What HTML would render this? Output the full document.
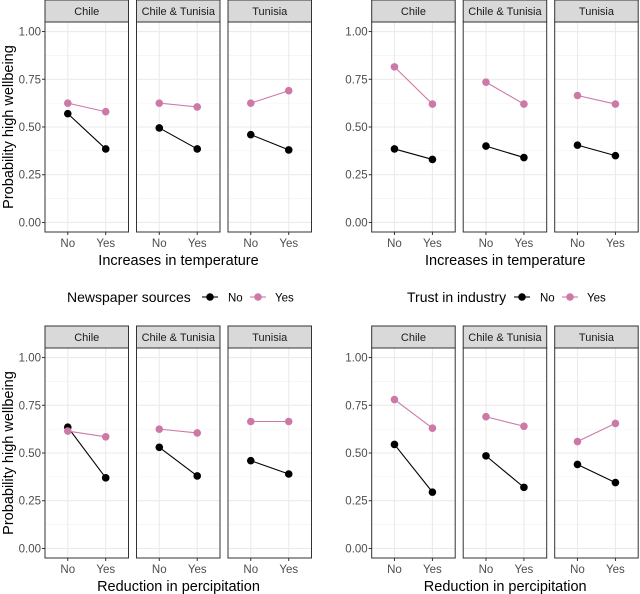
<!DOCTYPE html>
<html><head><meta charset="utf-8"><style>
body{margin:0;background:#fff}
svg{display:block;font-family:"Liberation Sans",Arial,sans-serif}
</style></head><body>
<svg id="c" width="640" height="594" xmlns="http://www.w3.org/2000/svg"></svg>
<script>
const facets = ["Chile","Chile & Tunisia","Tunisia"];
const xCats = ["No","Yes"];
const yTicks = [0,0.25,0.5,0.75,1];
const yTickLabels = ["0.00","0.25","0.50","0.75","1.00"];
// values per facet: [No, Yes] along x
const tlNo  = [[0.57,0.385],[0.495,0.385],[0.46,0.38]];
const tlYes = [[0.625,0.58],[0.625,0.605],[0.625,0.69]];
const trNo  = [[0.385,0.33],[0.40,0.34],[0.405,0.35]];
const trYes = [[0.815,0.62],[0.735,0.62],[0.665,0.62]];
const blNo  = [[0.635,0.37],[0.53,0.38],[0.46,0.39]];
const blYes = [[0.615,0.585],[0.625,0.605],[0.665,0.665]];
const brNo  = [[0.545,0.295],[0.485,0.32],[0.44,0.345]];
const brYes = [[0.78,0.63],[0.69,0.64],[0.56,0.655]];
const panels = [
 {name:"temperature-newspaper",ox:0,oy:0,no:tlNo,yes:tlYes,xt:"Increases in temperature",yt:true},
 {name:"temperature-trust",ox:326.7,oy:0,no:trNo,yes:trYes,xt:"Increases in temperature",yt:false},
 {name:"precipitation-newspaper",ox:0,oy:326,no:blNo,yes:blYes,xt:"Reduction in percipitation",yt:true},
 {name:"precipitation-trust",ox:326.7,oy:326,no:brNo,yes:brYes,xt:"Reduction in percipitation",yt:false}
];
const NS="http://www.w3.org/2000/svg", svg=document.getElementById('c');
function mk(t,a,p,txt){const e=document.createElementNS(NS,t);for(const k in a)e.setAttribute(k,a[k]);if(txt!=null)e.textContent=txt;(p||svg).appendChild(e);return e;}
const PINK="#CC79A7";
const fx=[45,136.5,228], fw=83.5;
panels.forEach(P=>{
  const g=mk('g',{});
  
  
  const top=P.oy+22, bot=P.oy+232, stripTop=P.oy;
  const y=v=>top+(1.05-v)/1.1*(bot-top);
  yTicks.forEach((t,i)=>{
    const tl=mk('text',{x:P.ox+41,y:y(t)+4,'text-anchor':'end','font-size':11.5,fill:'#4d4d4d'},g,yTickLabels[i]);
    
    
    mk('line',{x1:P.ox+42,x2:P.ox+45,y1:y(t),y2:y(t),stroke:'#333','stroke-width':1},g);
  });
  if(P.yt){
    const yt=mk('text',{transform:`translate(${P.ox+13},${(top+bot)/2}) rotate(-90)`,'text-anchor':'middle','font-size':14.5,fill:'#000'},g,'Probability high wellbeing');
    
    
  }
  facets.forEach((f,fi)=>{
    const L=P.ox+fx[fi];
    const x=k=>L+(k+1-0.4)/2.2*fw;
    const fg=mk('g',{},g);
    
    
    mk('rect',{x:L,y:top,width:fw,height:bot-top,fill:'#fff'},fg);
    [0.125,0.375,0.625,0.875].forEach(t=>mk('line',{x1:L,x2:L+fw,y1:y(t),y2:y(t),stroke:'#f2f2f2','stroke-width':0.6},fg));
    yTicks.forEach(t=>mk('line',{x1:L,x2:L+fw,y1:y(t),y2:y(t),stroke:'#ebebeb','stroke-width':1.1},fg));
    xCats.forEach((c,k)=>{
      mk('line',{x1:x(k),x2:x(k),y1:top,y2:bot,stroke:'#ebebeb','stroke-width':1.1},fg);
      mk('line',{x1:x(k),x2:x(k),y1:bot,y2:bot+3,stroke:'#333'},fg);
      const xl=mk('text',{x:x(k),y:bot+15,'text-anchor':'middle','font-size':11.5,fill:'#4d4d4d'},fg,c);
      
      
    });
    [[P.no,'#000','no'],[P.yes,PINK,'yes']].forEach(([d,col,nm])=>{
      const v=d[fi];
      const ln=mk('line',{x1:x(0),y1:y(v[0]),x2:x(1),y2:y(v[1]),stroke:col,'stroke-width':1.1},fg);
      
      
      v.forEach((val,k)=>{
        const pt=mk('circle',{cx:x(k),cy:y(val),r:3.8,fill:col},fg);
        
        
      });
    });
    mk('rect',{x:L,y:top,width:fw,height:bot-top,fill:'none',stroke:'#333','stroke-width':1},fg);
    const st=mk('rect',{x:L,y:stripTop,width:fw,height:22,fill:'#d9d9d9',stroke:'#333','stroke-width':1},fg);
    
    
    const stt=mk('text',{x:L+fw/2,y:stripTop+15,'text-anchor':'middle','font-size':11,fill:'#1a1a1a'},fg,f);
    
    
  });
  const xt=mk('text',{x:P.ox+178.5,y:bot+33,'text-anchor':'middle','font-size':14.5,fill:'#000'},g,P.xt);
  
  
});
const legends=[{title:"Newspaper sources",tx:67,k1:210,nx:228,k2:258,yx:275},{title:"Trust in industry",tx:407,k1:522,nx:540,k2:570,yx:587}];
legends.forEach(L=>{
  const g=mk('g',{});
  
  
  const ly=297;
  mk('text',{x:L.tx,y:ly+5,'font-size':14,fill:'#000'},g,L.title);
  [[L.k1,'#000',L.nx,'No'],[L.k2,PINK,L.yx,'Yes']].forEach(([kx,col,tx,lab])=>{
    const e=mk('g',{},g);
    
    
    mk('line',{x1:kx-8,x2:kx+8,y1:ly,y2:ly,stroke:col,'stroke-width':1.1},e);
    mk('circle',{cx:kx,cy:ly,r:3.8,fill:col},e);
    mk('text',{x:tx,y:ly+4.5,'font-size':11.5,fill:'#000'},e,lab);
  });
});
</script>
</body></html>
